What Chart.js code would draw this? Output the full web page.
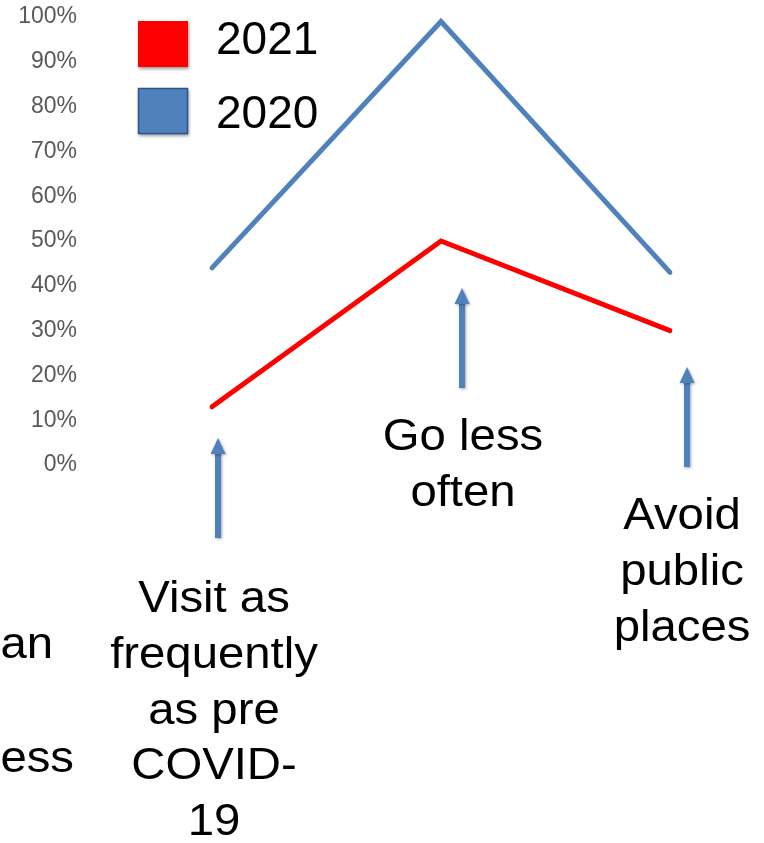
<!DOCTYPE html>
<html>
<head>
<meta charset="utf-8">
<script src="https://cdn.jsdelivr.net/npm/chart.js@4.4.1/dist/chart.umd.min.js"></script>
<style>
  html, body { margin: 0; padding: 0; background: #fff; }
  #wrap { width: 764px; height: 843px; position: relative; }
</style>
</head>
<body>
<div id="wrap"><canvas id="chart"></canvas></div>
<script>
// data
const categories = ['Visit as frequently as pre COVID-19', 'Go less often', 'Avoid public places'];
const seriesNames = ['2021', '2020'];
const values2021 = [13, 50, 30];
const values2020 = [44, 99, 43];
const yTicks = [0, 10, 20, 30, 40, 50, 60, 70, 80, 90, 100];

// wrapped label lines, one list per category
const labelLines = [
  ['Visit as', 'frequently', 'as pre', 'COVID-', '19'],
  ['Go less', 'often'],
  ['Avoid', 'public', 'places']
];
// leftover text of a neighbouring label cut by the left edge
const cutLines = ['an', 'ess'];

const RED = '#ff0000';
const BLUE = '#4f81bd';
const TEXT_FONT = '"Liberation Sans", Arial, sans-serif';
const LINE_STEP = 55.8;

// where the annotations sit relative to each category
const annot = [
  { dx: 6,  arrowTop: 438, arrowBottom: 538, baseline: 612, dxText: 2 },
  { dx: 21, arrowTop: 288, arrowBottom: 388, baseline: 450, dxText: 22 },
  { dx: 17, arrowTop: 367, arrowBottom: 467, baseline: 529, dxText: 12 }
];
const cutPos = [{ right: 53, baseline: 658 }, { right: 74, baseline: 772 }];
const legendPos = [{ box: 21, text: 41 }, { box: 88, text: 115 }];

function drawArrow(ctx, x, top, bottom) {
  ctx.save();
  ctx.shadowColor = 'rgba(0,0,0,0.35)';
  ctx.shadowBlur = 3;
  ctx.shadowOffsetX = 1;
  ctx.shadowOffsetY = 1;
  ctx.fillStyle = BLUE;
  ctx.fillRect(x - 3, top + 14, 6, bottom - top - 14);
  ctx.beginPath();
  ctx.moveTo(x, top);
  ctx.lineTo(x + 7.5, top + 16);
  ctx.lineTo(x - 7.5, top + 16);
  ctx.closePath();
  ctx.fill();
  ctx.restore();
}

// label text is a little wider than plain Arial
function stretchedText(ctx, text, x, y, align) {
  ctx.save();
  ctx.translate(x, y);
  ctx.scale(1.075, 1);
  ctx.textAlign = align;
  ctx.fillText(text, 0, 0);
  ctx.restore();
}

const annotations = {
  id: 'annotations',
  afterDraw(chart) {
    const ctx = chart.ctx;
    const x = chart.scales.x;
    ctx.save();
    ctx.fillStyle = '#000';
    ctx.font = '44px ' + TEXT_FONT;
    ctx.textBaseline = 'alphabetic';
    categories.forEach((c, i) => {
      const px = x.getPixelForValue(i);
      const a = annot[i];
      drawArrow(ctx, px + a.dx, a.arrowTop, a.arrowBottom);
      labelLines[i].forEach((line, j) => {
        stretchedText(ctx, line, px + a.dxText, a.baseline + j * LINE_STEP, 'center');
      });
    });
    cutLines.forEach((t, i) => stretchedText(ctx, t, cutPos[i].right, cutPos[i].baseline, 'right'));
    ctx.restore();
  }
};

const legendBoxes = {
  id: 'legendBoxes',
  afterDraw(chart) {
    const ctx = chart.ctx;
    ctx.save();
    chart.data.datasets.forEach((ds, i) => {
      const top = legendPos[i].box;
      ctx.save();
      ctx.shadowColor = 'rgba(0,0,0,0.4)';
      ctx.shadowBlur = 3;
      ctx.shadowOffsetX = 1;
      ctx.shadowOffsetY = 2;
      ctx.fillStyle = ds.borderColor;
      ctx.fillRect(138, top, 50, 46);
      ctx.restore();
      if (i === 1) {
        ctx.strokeStyle = '#2f528f';
        ctx.lineWidth = 1.5;
        ctx.strokeRect(138.5, top + 0.5, 49, 45);
      }
      ctx.fillStyle = '#000';
      ctx.font = '46px ' + TEXT_FONT;
      ctx.textAlign = 'left';
      ctx.textBaseline = 'middle';
      ctx.fillText(ds.label, 216, legendPos[i].text);
    });
    ctx.restore();
  }
};

new Chart(document.getElementById('chart'), {
  type: 'line',
  data: {
    labels: categories,
    datasets: [
      { label: seriesNames[0], data: values2021, borderColor: RED, backgroundColor: RED,
        borderWidth: 5, pointRadius: 0, borderCapStyle: 'round', borderJoinStyle: 'miter', tension: 0 },
      { label: seriesNames[1], data: values2020, borderColor: BLUE, backgroundColor: BLUE,
        borderWidth: 5, pointRadius: 0, borderCapStyle: 'round', borderJoinStyle: 'miter', tension: 0 }
    ]
  },
  options: {
    responsive: true,
    maintainAspectRatio: false,
    animation: false,
    layout: { padding: { left: 18, right: 94, top: 17, bottom: 378 } },
    scales: {
      x: { display: false, offset: false },
      y: {
        min: 0, max: 100,
        afterBuildTicks: (axis) => { axis.ticks = yTicks.map(v => ({ value: v })); },
        afterFit: (axis) => { axis.width = 194; axis.paddingTop = 0; axis.paddingBottom = 0; },
        grid: { display: false, drawTicks: false },
        border: { display: false },
        ticks: {
          padding: 135,
          color: '#595959',
          font: { family: TEXT_FONT, size: 23 },
          callback: (v) => v + '%'
        }
      }
    },
    plugins: {
      legend: { display: false },
      tooltip: { enabled: false }
    }
  },
  plugins: [annotations, legendBoxes]
});
</script>
</body>
</html>
